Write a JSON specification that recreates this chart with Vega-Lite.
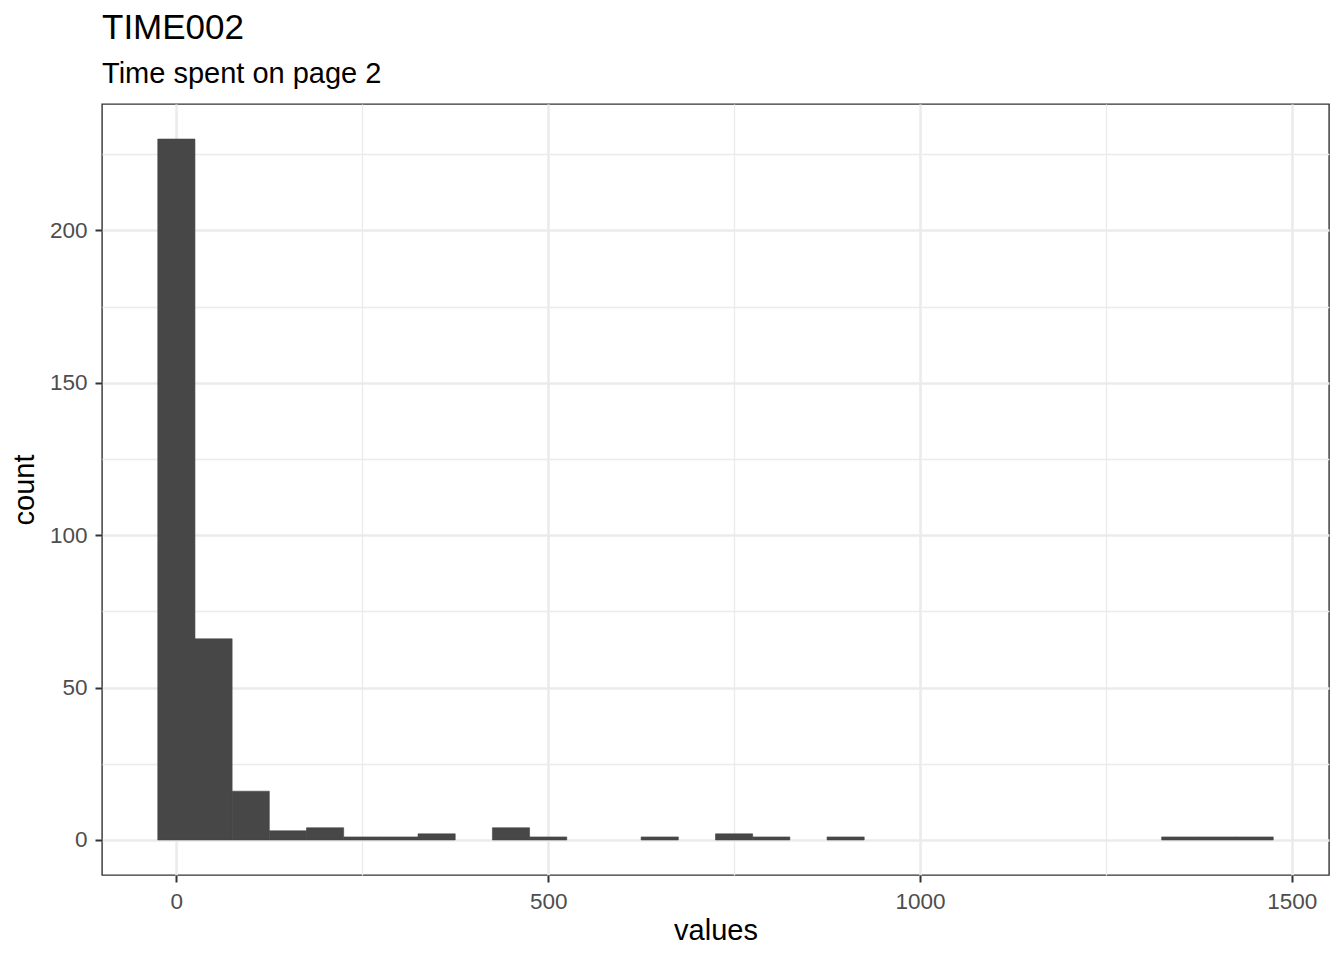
{
  "$schema": "https://vega.github.io/schema/vega-lite/v6.json",
  "width": 1227,
  "height": 771,
  "autosize": {"type": "none"},
  "padding": {"left": 102, "top": 104, "right": 15, "bottom": 85},
  "background": "white",
  "title": {
    "text": "TIME002",
    "subtitle": "Time spent on page 2",
    "anchor": "start",
    "frame": "group",
    "font": "Liberation Sans",
    "fontSize": 35,
    "fontWeight": "normal",
    "color": "black",
    "subtitleFont": "Liberation Sans",
    "subtitleFontSize": 29,
    "subtitleColor": "black",
    "subtitlePadding": 14,
    "offset": 15
  },
  "data": {
    "values": [
      {"bin_start": -25, "bin_end": 25, "count": 230},
      {"bin_start": 25, "bin_end": 75, "count": 66},
      {"bin_start": 75, "bin_end": 125, "count": 16},
      {"bin_start": 125, "bin_end": 175, "count": 3},
      {"bin_start": 175, "bin_end": 225, "count": 4},
      {"bin_start": 225, "bin_end": 275, "count": 1},
      {"bin_start": 275, "bin_end": 325, "count": 1},
      {"bin_start": 325, "bin_end": 375, "count": 2},
      {"bin_start": 375, "bin_end": 425, "count": 0},
      {"bin_start": 425, "bin_end": 475, "count": 4},
      {"bin_start": 475, "bin_end": 525, "count": 1},
      {"bin_start": 525, "bin_end": 575, "count": 0},
      {"bin_start": 575, "bin_end": 625, "count": 0},
      {"bin_start": 625, "bin_end": 675, "count": 1},
      {"bin_start": 675, "bin_end": 725, "count": 0},
      {"bin_start": 725, "bin_end": 775, "count": 2},
      {"bin_start": 775, "bin_end": 825, "count": 1},
      {"bin_start": 825, "bin_end": 875, "count": 0},
      {"bin_start": 875, "bin_end": 925, "count": 1},
      {"bin_start": 925, "bin_end": 975, "count": 0},
      {"bin_start": 975, "bin_end": 1025, "count": 0},
      {"bin_start": 1025, "bin_end": 1075, "count": 0},
      {"bin_start": 1075, "bin_end": 1125, "count": 0},
      {"bin_start": 1125, "bin_end": 1175, "count": 0},
      {"bin_start": 1175, "bin_end": 1225, "count": 0},
      {"bin_start": 1225, "bin_end": 1275, "count": 0},
      {"bin_start": 1275, "bin_end": 1325, "count": 0},
      {"bin_start": 1325, "bin_end": 1375, "count": 1},
      {"bin_start": 1375, "bin_end": 1425, "count": 1},
      {"bin_start": 1425, "bin_end": 1475, "count": 1}
    ]
  },
  "layer": [
    {
      "mark": {"type": "bar", "opacity": 0},
      "encoding": {
        "x": {
          "field": "bin_start", "type": "quantitative",
          "scale": {"domain": [-100, 1550], "nice": false, "zero": false},
          "axis": {"orient": "bottom", "values": [250, 750, 1250], "grid": true, "gridColor": "#EBEBEB", "gridWidth": 1.3,
                   "labels": false, "ticks": false, "domain": false, "title": null}
        },
        "x2": {"field": "bin_end"},
        "y": {
          "field": "count", "type": "quantitative",
          "scale": {"domain": [-11.5, 241.5], "nice": false, "zero": false},
          "axis": {"orient": "left", "values": [25, 75, 125, 175, 225], "grid": true, "gridColor": "#EBEBEB", "gridWidth": 1.3,
                   "labels": false, "ticks": false, "domain": false, "title": null}
        },
        "y2": {"datum": 0}
      }
    },
    {
      "mark": {"type": "bar", "color": "#474747", "stroke": "#474747"},
      "encoding": {
        "x": {
          "field": "bin_start", "type": "quantitative",
          "axis": {"orient": "bottom", "values": [0, 500, 1000, 1500], "format": "d", "grid": true, "gridColor": "#EBEBEB", "gridWidth": 2.6,
                   "title": "values", "titlePadding": 4}
        },
        "x2": {"field": "bin_end"},
        "y": {
          "field": "count", "type": "quantitative",
          "axis": {"orient": "left", "values": [0, 50, 100, 150, 200], "format": "d", "grid": true, "gridColor": "#EBEBEB", "gridWidth": 2.6,
                   "title": "count", "titlePadding": 10}
        },
        "y2": {"datum": 0},
        "strokeWidth": {"condition": {"test": "datum.count > 0", "value": 0.6}, "value": 0}
      }
    }
  ],
  "resolve": {"axis": {"x": "independent", "y": "independent"}},
  "config": {
    "font": "Liberation Sans",
    "view": {"stroke": "#333333", "strokeWidth": 1.4},
    "axis": {
      "domain": false,
      "tickColor": "#333333",
      "tickWidth": 2,
      "tickSize": 7,
      "labelFont": "Liberation Sans",
      "labelFontSize": 22.5,
      "labelColor": "#4D4D4D",
      "labelPadding": 8,
      "titleFont": "Liberation Sans",
      "titleFontSize": 29,
      "titleFontWeight": "normal",
      "titleColor": "black"
    }
  }
}
